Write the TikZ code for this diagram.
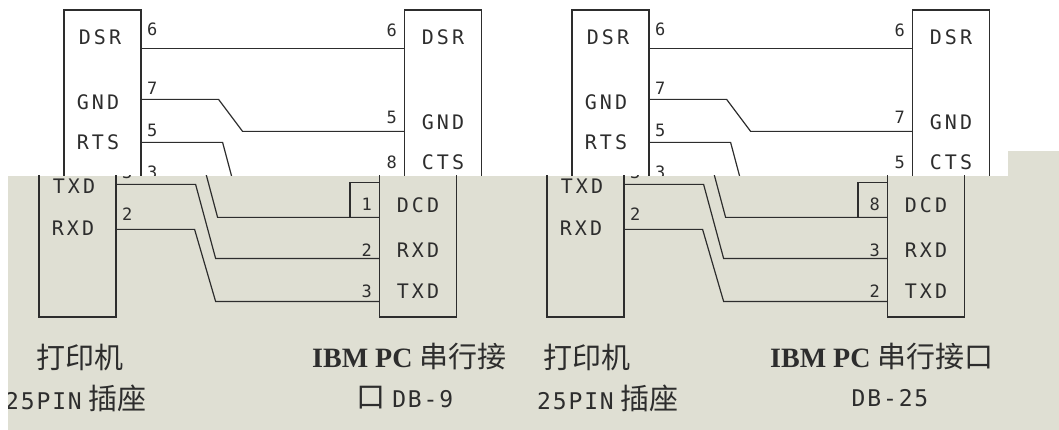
\documentclass[tikz,border=0pt]{standalone}
\usepackage{fontspec}
\usetikzlibrary{positioning}
\newfontfamily\pinfont[LetterSpace=15]{DejaVu Sans Mono}
\newfontfamily\monofont[LetterSpace=8]{DejaVu Sans Mono}
\newfontfamily\cjkfont{Noto Sans CJK SC}
\newfontfamily\ibmfont{Liberation Serif}
\definecolor{paper}{RGB}{223,223,211}
\definecolor{ink}{RGB}{45,45,45}
\tikzset{plug/.style={draw=ink, line width=1.2pt, minimum width=77pt, minimum height=307pt, inner sep=0pt}}
\tikzset{wire/.style={draw=ink, line width=1.2pt}}
\tikzset{signal/.style={inner sep=0pt, text=ink, font=\pinfont\fontsize{20}{24}\selectfont}}
\tikzset{pinno/.style={inner sep=0pt, text=ink, font=\pinfont\fontsize{17}{20}\selectfont}}
\tikzset{caption/.style={inner sep=0pt, text=ink, font=\cjkfont\fontsize{29}{34}\selectfont}}

% printer socket, PC port and the wires between them
\newcommand{\cable}{
\node[plug] (prn) at (102.5,163.5) {};
\node[plug] (pc) at (443,163.5) {};
%pin points
\coordinate (ldsr) at ([yshift=-39pt]prn.north east);
\coordinate (lgnd) at ([yshift=-90pt]prn.north east);
\coordinate (lrts) at ([yshift=-133pt]prn.north east);
\coordinate (ltxd) at ([yshift=-175pt]prn.north east);
\coordinate (lrxd) at ([yshift=-220pt]prn.north east);
\coordinate (rdsr) at ([yshift=-39pt]pc.north west);
\coordinate (rgnd) at ([yshift=-122pt]pc.north west);
\coordinate (rcts) at ([yshift=-173pt]pc.north west);
\coordinate (rdcd) at ([yshift=-208pt]pc.north west);
\coordinate (rrxd) at ([yshift=-249pt]pc.north west);
\coordinate (rtxd) at ([yshift=-292pt]pc.north west);
%wires
\draw[wire] (ldsr) -- (rdsr);
\draw[wire] (lgnd) -- ++(77,0) -- ++(24,32) -- (rgnd);
\draw[wire] (lrts) -- ++(81,0) -- ++(20,75) -- (rdcd);
\draw[wire] (rcts) -- ++(-29,0) -- ++(0,35);
\draw[wire] (ltxd) -- ++(79,0) -- ++(20,74) -- (rrxd);
\draw[wire] (lrxd) -- ++(78,0) -- ++(21,72) -- (rtxd);
}

% labels above the seam, #1..#3: PC pins of DSR, GND, CTS
\newcommand{\upperlabels}[3]{
\node[signal] (pdsr) at (100,37) {DSR};
\node[signal] (pgnd) at (98,102) {GND};
\node[signal] (prts) at (98,142) {RTS};
\node[pinno,anchor=west] (pn6) at (147,29) {6};
\node[pinno,anchor=west] (pn7) at (147,88) {7};
\node[pinno,anchor=west] (pn5) at (147,130) {5};
\node[pinno,anchor=west] (pn3) at (147,172) {3};
\node[signal] (cdsr) at (443,37) {DSR};
\node[signal] (cgnd) at (443,122) {GND};
\node[signal] (ccts) at (443,162) {CTS};
\node[pinno,anchor=east] (cn1) at (397,30) {#1};
\node[pinno,anchor=east] (cn2) at (397,117) {#2};
\node[pinno,anchor=east] (cn3) at (397,162) {#3};
}

% labels below the seam, #1..#3: PC pins of DCD, RXD, TXD
\newcommand{\lowerlabels}[3]{
\node[signal] (ptxd) at (99,186) {TXD};
\node[signal] (prxd) at (98,228) {RXD};
\node[pinno,anchor=west] (pn3) at (147,172) {3};
\node[pinno,anchor=west] (pn2) at (147,214) {2};
\node[signal] (cdcd) at (443,205) {DCD};
\node[signal] (crxd) at (443,250) {RXD};
\node[signal] (ctxd) at (443,291) {TXD};
\node[pinno,anchor=east] (cn4) at (397,204) {#1};
\node[pinno,anchor=east] (cn5) at (397,250) {#2};
\node[pinno,anchor=east] (cn6) at (397,291) {#3};
}

\begin{document}
\begin{tikzpicture}[x=1pt,y=-1pt]
\useasboundingbox (0,0) rectangle (1059,430);

%upper strip
\begin{scope}
\clip (0,0) rectangle (1059,176);
\cable \upperlabels{6}{5}{8}
\begin{scope}[xshift=508]
\cable \upperlabels{6}{7}{5}
\end{scope}
\end{scope}

%lower strip, pasted 25px to the left
\fill[paper] (8,176) rectangle (1059,430);
\fill[paper] (1008,151) rectangle (1059,176);
\begin{scope}
\clip (8,176) rectangle (1059,430);
\begin{scope}[xshift=-25]
\cable \lowerlabels{1}{2}{3}
\begin{scope}[xshift=508]
\cable \lowerlabels{8}{3}{2}
\end{scope}
\end{scope}

%captions
\node[caption] (prnA) at (80,357) {打印机};
\node[caption,anchor=west] (pinA) at (5,398) {{\monofont\fontsize{23}{28}\selectfont 25PIN} 插座};
\node[caption,anchor=west] (pcA) at (312,357) {{\ibmfont\bfseries\fontsize{28}{34}\selectfont IBM PC} 串行接};
\node[caption] (dbA) at (405,398) {口 {\monofont\fontsize{23}{28}\selectfont DB-9}};
\node[caption] (prnB) at (587,357) {打印机};
\node[caption,anchor=west] (pinB) at (537,398) {{\monofont\fontsize{23}{28}\selectfont 25PIN} 插座};
\node[caption,anchor=west] (pcB) at (770,357) {{\ibmfont\bfseries\fontsize{28}{34}\selectfont IBM PC} 串行接口};
\node[caption] (dbB) at (890,398) {{\monofont\fontsize{23}{28}\selectfont DB-25}};
\end{scope}
\end{tikzpicture}
\end{document}
